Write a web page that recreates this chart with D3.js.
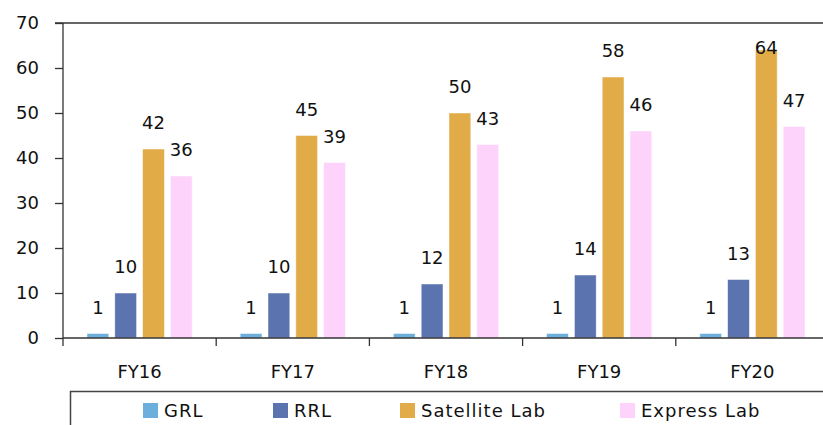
<!DOCTYPE html>
<html>
<head>
<meta charset="utf-8">
<script src="https://cdn.jsdelivr.net/npm/d3@7"></script>
<style>
  html, body { margin: 0; padding: 0; background: #fff; }
  svg { display: block; font-family: "DejaVu Sans", "Open Sans", sans-serif; }
</style>
</head>
<body>
<svg id="chart" width="823" height="425"></svg>
<script>
// Lab counts by fiscal year
const years = ["FY16", "FY17", "FY18", "FY19", "FY20"];
const seriesNames = ["GRL", "RRL", "Satellite Lab", "Express Lab"];
const grl = [1, 1, 1, 1, 1];
const rrl = [10, 10, 12, 14, 13];
const satellite = [42, 45, 50, 58, 64];
const express = [36, 39, 43, 46, 47];
const yTicks = [0, 10, 20, 30, 40, 50, 60, 70];
const colors = ["#6cafdc", "#5b74b0", "#e1ab48", "#fdd3fc"];

const seriesValues = [grl, rrl, satellite, express];

const W = 823, H = 425;
const plotLeft = 63, plotTop = 23, plotBottom = 338, plotRight = 829;
const fontSize = 18;

const svg = d3.select("#chart");

const x = d3.scaleBand().domain(years).range([plotLeft, plotRight]);
const inner = d3.scaleBand()
  .domain(seriesNames)
  .range([24, x.bandwidth() - 24])
  .paddingInner(0.216)
  .paddingOuter(0);
const y = d3.scaleLinear().domain([0, 70]).range([plotBottom, plotTop]);

// Top border of the plot area
svg.append("line")
  .attr("x1", plotLeft - 8).attr("x2", W)
  .attr("y1", y(70)).attr("y2", y(70))
  .attr("stroke", "#333").attr("stroke-width", 1.3);

// Bars
const groups = svg.append("g").selectAll("g")
  .data(years)
  .join("g")
  .attr("transform", d => `translate(${x(d)},0)`);

const cells = (d, i) => seriesNames.map((s, k) => ({ s, k, v: seriesValues[k][i] }));

groups.selectAll("rect")
  .data(cells)
  .join("rect")
  .attr("x", d => inner(d.s))
  .attr("width", inner.bandwidth())
  .attr("y", d => y(d.v))
  .attr("height", d => y(0) - y(d.v))
  .attr("fill", d => colors[d.k])
  .attr("stroke", "#fff")
  .attr("stroke-opacity", 0.6)
  .attr("stroke-width", 0.8);

// Value labels above bars, kept inside the plot area
groups.selectAll("text.val")
  .data(cells)
  .join("text")
  .attr("class", "val")
  .attr("x", d => inner(d.s) + inner.bandwidth() / 2)
  .attr("y", d => Math.max(y(d.v) - 26, plotTop + 24.5))
  .attr("dy", "0.36em")
  .attr("text-anchor", "middle")
  .attr("font-size", fontSize)
  .attr("fill", "#111")
  .text(d => d.v);

// Y axis
const yAxis = d3.axisLeft(y).tickValues(yTicks).tickSize(8).tickPadding(16);
const gy = svg.append("g")
  .attr("transform", `translate(${plotLeft},0)`)
  .call(yAxis);
gy.select(".domain").remove();
gy.append("line")
  .attr("x1", 0).attr("x2", 0)
  .attr("y1", y(70)).attr("y2", plotBottom + 8)
  .attr("stroke", "#333").attr("stroke-width", 1.3);
gy.selectAll(".tick line").attr("stroke", "#333").attr("stroke-width", 1.3);
gy.selectAll(".tick text")
  .attr("font-size", fontSize)
  .attr("font-family", "DejaVu Sans, sans-serif")
  .attr("fill", "#111");

// X axis with ticks at category boundaries
svg.append("line")
  .attr("x1", plotLeft).attr("x2", W)
  .attr("y1", plotBottom).attr("y2", plotBottom)
  .attr("stroke", "#333").attr("stroke-width", 1.3);
svg.append("g").selectAll("line")
  .data(years.slice(1))
  .join("line")
  .attr("x1", d => x(d)).attr("x2", d => x(d))
  .attr("y1", plotBottom).attr("y2", plotBottom + 8)
  .attr("stroke", "#333").attr("stroke-width", 1.3);
svg.append("g").selectAll("text")
  .data(years)
  .join("text")
  .attr("x", d => x(d) + x.bandwidth() / 2)
  .attr("y", 372)
  .attr("dy", "0.36em")
  .attr("text-anchor", "middle")
  .attr("font-size", fontSize)
  .attr("fill", "#111")
  .text(d => d);

// Legend
svg.append("path")
  .attr("d", `M70.5,${H} V391.5 H${W}`)
  .attr("fill", "none")
  .attr("stroke", "#444").attr("stroke-width", 1.5);

const legendX = [143, 273, 400, 620];
const lg = svg.append("g").selectAll("g")
  .data(seriesNames)
  .join("g")
  .attr("transform", (d, i) => `translate(${legendX[i]},403)`);
lg.append("rect")
  .attr("width", 15).attr("height", 15)
  .attr("fill", (d, i) => colors[i]);
lg.append("text")
  .attr("x", 21).attr("y", 7.5)
  .attr("dy", "0.36em")
  .attr("font-size", fontSize)
  .attr("letter-spacing", 1)
  .attr("fill", "#111")
  .text(d => d);
</script>
</body>
</html>
